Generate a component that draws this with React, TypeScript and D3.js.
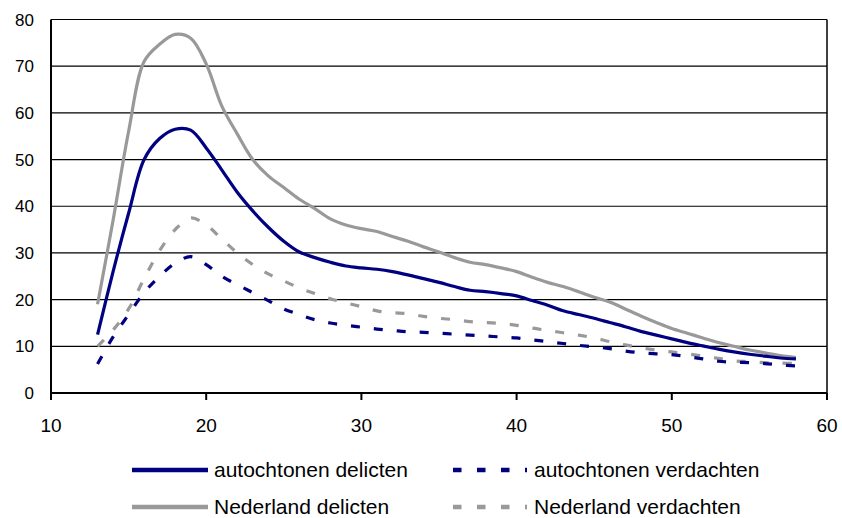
import React from "react";
import * as d3 from "d3";

const ages = [13,14,15,16,17,18,19,20,21,22,23,24,25,26,27,28,29,30,31,32,33,34,35,36,37,38,39,40,41,42,43,44,45,46,47,48,49,50,51,52,53,54,55,56,57,58];

const autochtonenDelicten = [12.5,26,38.5,50,54.5,56.5,56.3,52.5,47.8,43,39,35.5,32.5,30.2,29,28,27.2,26.8,26.5,26,25.3,24.5,23.7,22.8,22,21.7,21.3,20.8,19.8,18.8,17.6,16.8,16,15.1,14.2,13.2,12.4,11.6,10.8,10.1,9.4,8.8,8.3,7.9,7.5,7.3];
const autochtonenVerdachten = [6.2,12,16.8,21.5,25,27.8,29.2,27.5,25,23.2,21.5,19.8,18,16.8,15.7,15,14.5,14.1,13.7,13.4,13.1,13,12.8,12.6,12.4,12.2,12,11.8,11.4,11,10.6,10.2,9.9,9.5,9,8.6,8.4,8.2,7.8,7.3,6.8,6.6,6.5,6.3,6,5.8];
const nederlandDelicten = [19,37,56,71,74.7,76.8,76,70.5,61.5,55.5,50,46.5,44,41.5,39.5,37.3,36,35.2,34.6,33.5,32.5,31.3,30.2,29,28,27.5,26.8,26,24.8,23.7,22.8,21.7,20.5,19.5,18,16.5,15.1,13.8,12.8,11.8,10.8,10,9.2,8.6,8,7.6];
const nederlandVerdachten = [10,13.5,18,24.5,30.5,35,37.5,36,33,30,27.5,25.5,24,22.5,21.3,20.2,19.3,18.5,17.6,17.2,17,16.4,16,15.7,15.3,15.1,14.9,14.5,13.9,13.4,12.9,12.4,11.8,11,10.3,9.7,9.2,8.8,8.4,7.9,7.4,6.9,6.7,6.5,6.4,6.3];

const xTicks = [10,20,30,40,50,60];
const yTicks = [0,10,20,30,40,50,60,70,80];

const seriesNames = ["autochtonen delicten","autochtonen verdachten","Nederland delicten","Nederland verdachten"];
const NAVY = "#000080";
const GRAY = "#999999";

export default function App() {
  const W = 842, H = 518;
  const x = d3.scaleLinear().domain([10, 60]).range([51, 827]);
  const y = d3.scaleLinear().domain([0, 80]).range([393, 19.5]);
  const line = d3.line<[number, number]>()
    .x(d => x(d[0]))
    .y(d => y(d[1]))
    .curve(d3.curveCatmullRom.alpha(0.5));
  const mk = (vals: number[]) => ages.map((a, i) => [a, vals[i]] as [number, number]);

  const series = [
    { name: seriesNames[0], vals: autochtonenDelicten, color: NAVY, dash: null },
    { name: seriesNames[1], vals: autochtonenVerdachten, color: NAVY, dash: "9,14" },
    { name: seriesNames[2], vals: nederlandDelicten, color: GRAY, dash: null },
    { name: seriesNames[3], vals: nederlandVerdachten, color: GRAY, dash: "9,14" },
  ];
  const drawOrder = [3, 1, 2, 0];

  const font = "'Liberation Sans', Arial, sans-serif";

  const legendPos = [
    { x1: 132, x2: 208, y: 470, tx: 214, ty: 477 },
    { x1: 453, x2: 527, y: 470, tx: 534, ty: 477 },
    { x1: 132, x2: 208, y: 507, tx: 214, ty: 514 },
    { x1: 453, x2: 527, y: 507, tx: 534, ty: 514 },
  ];

  return (
    <div style={{ position: "absolute", left: 0, top: 0 }}>
      <svg width={W} height={H} style={{ display: "block", background: "#fff" }}>
        <rect width={W} height={H} fill="#fff" />
        {yTicks.filter(t => t > 0).map(t => (
          <line key={"g" + t} x1={x(10)} x2={x(60)} y1={y(t)} y2={y(t)} stroke="#000" strokeWidth={1.2} />
        ))}
        <line x1={x(60)} x2={x(60)} y1={y(80)} y2={y(0) + 7} stroke="#000" strokeWidth={1.5} />
        {xTicks.map(t => (
          <line key={"xt" + t} x1={x(t)} x2={x(t)} y1={y(0)} y2={y(0) + 7} stroke="#000" strokeWidth={2} />
        ))}
        <line x1={x(10)} x2={x(10)} y1={y(80)} y2={y(0) + 7} stroke="#000" strokeWidth={2} />
        <line x1={x(10)} x2={x(60)} y1={y(0)} y2={y(0)} stroke="#000" strokeWidth={2} />
        {yTicks.map(t => (
          <text key={"yl" + t} x={34} y={y(t)} dy="0.36em" textAnchor="end" fontFamily={font} fontSize={17} fill="#000">{t}</text>
        ))}
        {xTicks.map(t => (
          <text key={"xl" + t} x={x(t)} y={425} dy="0.36em" textAnchor="middle" fontFamily={font} fontSize={19} fill="#000">{t}</text>
        ))}
        {drawOrder.map(i => {
          const s = series[i];
          return (
            <path key={s.name} d={line(mk(s.vals)) || ""} fill="none" stroke={s.color} strokeWidth={3.2}
              strokeDasharray={s.dash || undefined} strokeLinejoin="round" />
          );
        })}
        {series.map((s, i) => {
          const p = legendPos[i];
          return (
            <g key={"lg" + i}>
              <line x1={p.x1} x2={p.x2} y1={p.y} y2={p.y} stroke={s.color} strokeWidth={4.5}
                strokeDasharray={s.dash ? "8.5,15.5" : undefined} />
              <text x={p.tx} y={p.ty} fontFamily={font} fontSize={21} fill="#000">{s.name}</text>
            </g>
          );
        })}
      </svg>
    </div>
  );
}
